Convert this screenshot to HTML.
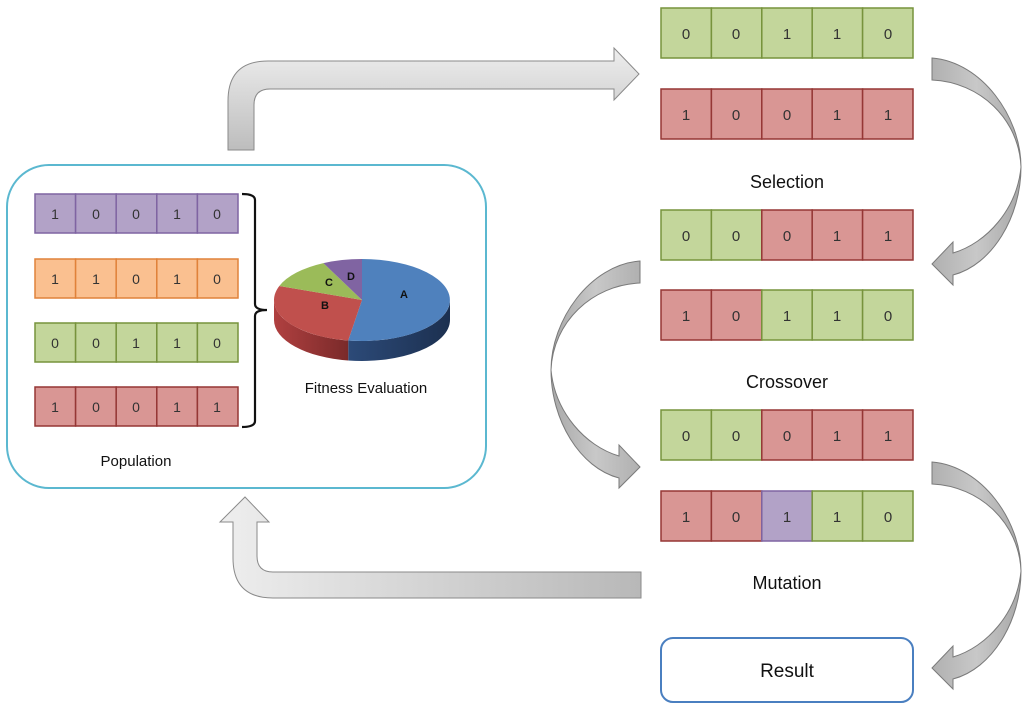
<!DOCTYPE html>
<html><head><meta charset="utf-8"><style>
html,body{margin:0;padding:0;background:#fff;}
svg{display:block;font-family:"Liberation Sans",sans-serif;}
</style></head><body>
<svg width="1024" height="707" viewBox="0 0 1024 707" xmlns="http://www.w3.org/2000/svg">
<defs>
<linearGradient id="gv" x1="0" y1="0" x2="0" y2="1"><stop offset="0" stop-color="#eeeeee"/><stop offset="1" stop-color="#bdbdbd"/></linearGradient>
<linearGradient id="gh" x1="0" y1="0" x2="1" y2="0"><stop offset="0" stop-color="#eeeeee"/><stop offset="1" stop-color="#b8b8b8"/></linearGradient>
<linearGradient id="gc" x1="0" y1="0" x2="1" y2="0"><stop offset="0" stop-color="#a8a8a8"/><stop offset="0.5" stop-color="#c8c8c8"/><stop offset="1" stop-color="#b0b0b0"/></linearGradient>
<linearGradient id="sa" x1="0" y1="0" x2="1" y2="0"><stop offset="0" stop-color="#2c4a78"/><stop offset="1" stop-color="#1c3050"/></linearGradient>
<linearGradient id="sb" x1="0" y1="0" x2="1" y2="0"><stop offset="0" stop-color="#b04040"/><stop offset="1" stop-color="#7a2a2a"/></linearGradient>
</defs>

<!-- Population box -->
<rect x="7" y="165" width="479" height="323" rx="42" fill="#fff" stroke="#5bb8d0" stroke-width="2"/>

<!-- Left rows -->
<g font-size="14" fill="#333" text-anchor="middle">
<g stroke="#7f64a2" stroke-width="1.5" fill="#b2a2c7">
<rect x="35" y="194" width="40.6" height="39"/><rect x="75.6" y="194" width="40.6" height="39"/><rect x="116.2" y="194" width="40.6" height="39"/><rect x="156.8" y="194" width="40.6" height="39"/><rect x="197.4" y="194" width="40.6" height="39"/>
</g>
<g stroke="#e0823a" stroke-width="1.5" fill="#fac090">
<rect x="35" y="259" width="40.6" height="39"/><rect x="75.6" y="259" width="40.6" height="39"/><rect x="116.2" y="259" width="40.6" height="39"/><rect x="156.8" y="259" width="40.6" height="39"/><rect x="197.4" y="259" width="40.6" height="39"/>
</g>
<g stroke="#77933c" stroke-width="1.5" fill="#c3d69b">
<rect x="35" y="323" width="40.6" height="39"/><rect x="75.6" y="323" width="40.6" height="39"/><rect x="116.2" y="323" width="40.6" height="39"/><rect x="156.8" y="323" width="40.6" height="39"/><rect x="197.4" y="323" width="40.6" height="39"/>
</g>
<g stroke="#953735" stroke-width="1.5" fill="#d99694">
<rect x="35" y="387" width="40.6" height="39"/><rect x="75.6" y="387" width="40.6" height="39"/><rect x="116.2" y="387" width="40.6" height="39"/><rect x="156.8" y="387" width="40.6" height="39"/><rect x="197.4" y="387" width="40.6" height="39"/>
</g>
<text x="55" y="219">1</text><text x="96" y="219">0</text><text x="136" y="219">0</text><text x="177" y="219">1</text><text x="217" y="219">0</text>
<text x="55" y="284">1</text><text x="96" y="284">1</text><text x="136" y="284">0</text><text x="177" y="284">1</text><text x="217" y="284">0</text>
<text x="55" y="348">0</text><text x="96" y="348">0</text><text x="136" y="348">1</text><text x="177" y="348">1</text><text x="217" y="348">0</text>
<text x="55" y="412">1</text><text x="96" y="412">0</text><text x="136" y="412">0</text><text x="177" y="412">1</text><text x="217" y="412">1</text>
</g>

<!-- Bracket -->
<path d="M242,194 Q255,194 255,200 L255,304 Q255,310 267,310 Q255,310 255,316 L255,421 Q255,427 242,427" fill="none" stroke="#111" stroke-width="2.2"/>

<!-- Pie -->
<path d="M450,300 A88,41 0 0 1 348.2,340.5 L348.2,360.5 A88,41 0 0 0 450,320 Z" fill="url(#sa)"/>
<path d="M348.2,340.5 A88,41 0 0 1 274,300 L274,320 A88,41 0 0 0 348.2,360.5 Z" fill="url(#sb)"/>
<path d="M362,300 L362,259 A88,41 0 1 1 348.2,340.5 Z" fill="#4f81bd"/>
<path d="M362,300 L348.2,340.5 A88,41 0 0 1 279.3,286 Z" fill="#c0504d"/>
<path d="M362,300 L279.3,286 A88,41 0 0 1 323.4,263.1 Z" fill="#9bbb59"/>
<path d="M362,300 L323.4,263.1 A88,41 0 0 1 362,259 Z" fill="#8064a2"/>
<g font-size="11" font-weight="bold" fill="#111" text-anchor="middle">
<text x="404" y="298">A</text><text x="325" y="309">B</text><text x="329" y="286">C</text><text x="351" y="280">D</text>
</g>
<text x="366" y="393" font-size="15" fill="#111" text-anchor="middle">Fitness Evaluation</text>
<text x="136" y="466" font-size="15" fill="#111" text-anchor="middle">Population</text>

<!-- Top arrow -->
<path d="M228,150 L228,101 Q228,61 268,61 L614,61 L614,48 L639,74 L614,100 L614,89 L270,89 Q254,89 254,105 L254,150 Z" fill="url(#gv)" stroke="#8a8a8a" stroke-width="1"/>
<!-- Bottom arrow -->
<path d="M641,572 L273,572 Q257,572 257,556 L257,522 L269,522 L245,497 L220,522 L233,522 L233,558 Q233,598 273,598 L641,598 Z" fill="url(#gh)" stroke="#8a8a8a" stroke-width="1"/>

<!-- Curved arrows -->
<g fill="url(#gc)" stroke="#7a7a7a" stroke-width="1">
<path id="c2" d="M640,261 C590,265 551,320 551,370 C551,420 580,468 619,478 L619,488 L640,467 L619,445 L619,456 C585,446 555,412 551,370 C553,322 592,285 640,283 Z"/>
<path d="M640,261 C590,265 551,320 551,370 C551,420 580,468 619,478 L619,488 L640,467 L619,445 L619,456 C585,446 555,412 551,370 C553,322 592,285 640,283 Z" transform="matrix(-1,0,0,1,1572,-203)"/>
<path d="M640,261 C590,265 551,320 551,370 C551,420 580,468 619,478 L619,488 L640,467 L619,445 L619,456 C585,446 555,412 551,370 C553,322 592,285 640,283 Z" transform="matrix(-1,0,0,1,1572,201)"/>
</g>

<!-- Right rows -->
<g stroke-width="1.5">
<!-- row1 -->
<g fill="#c3d69b" stroke="#77933c"><rect x="661" y="8" width="50.4" height="50"/><rect x="711.4" y="8" width="50.4" height="50"/><rect x="761.8" y="8" width="50.4" height="50"/><rect x="812.2" y="8" width="50.4" height="50"/><rect x="862.6" y="8" width="50.4" height="50"/></g>
<!-- row2 -->
<g fill="#d99694" stroke="#953735"><rect x="661" y="89" width="50.4" height="50"/><rect x="711.4" y="89" width="50.4" height="50"/><rect x="761.8" y="89" width="50.4" height="50"/><rect x="812.2" y="89" width="50.4" height="50"/><rect x="862.6" y="89" width="50.4" height="50"/></g>
<!-- row3 -->
<g fill="#c3d69b" stroke="#77933c"><rect x="661" y="210" width="50.4" height="50"/><rect x="711.4" y="210" width="50.4" height="50"/></g>
<g fill="#d99694" stroke="#953735"><rect x="761.8" y="210" width="50.4" height="50"/><rect x="812.2" y="210" width="50.4" height="50"/><rect x="862.6" y="210" width="50.4" height="50"/></g>
<!-- row4 -->
<g fill="#d99694" stroke="#953735"><rect x="661" y="290" width="50.4" height="50"/><rect x="711.4" y="290" width="50.4" height="50"/></g>
<g fill="#c3d69b" stroke="#77933c"><rect x="761.8" y="290" width="50.4" height="50"/><rect x="812.2" y="290" width="50.4" height="50"/><rect x="862.6" y="290" width="50.4" height="50"/></g>
<!-- row5 -->
<g fill="#c3d69b" stroke="#77933c"><rect x="661" y="410" width="50.4" height="50"/><rect x="711.4" y="410" width="50.4" height="50"/></g>
<g fill="#d99694" stroke="#953735"><rect x="761.8" y="410" width="50.4" height="50"/><rect x="812.2" y="410" width="50.4" height="50"/><rect x="862.6" y="410" width="50.4" height="50"/></g>
<!-- row6 -->
<g fill="#d99694" stroke="#953735"><rect x="661" y="491" width="50.4" height="50"/><rect x="711.4" y="491" width="50.4" height="50"/></g>
<g fill="#b2a2c7" stroke="#7f64a2"><rect x="761.8" y="491" width="50.4" height="50"/></g>
<g fill="#c3d69b" stroke="#77933c"><rect x="812.2" y="491" width="50.4" height="50"/><rect x="862.6" y="491" width="50.4" height="50"/></g>
</g>
<g font-size="15" fill="#333" text-anchor="middle">
<text x="686" y="39">0</text><text x="736" y="39">0</text><text x="787" y="39">1</text><text x="837" y="39">1</text><text x="888" y="39">0</text>
<text x="686" y="120">1</text><text x="736" y="120">0</text><text x="787" y="120">0</text><text x="837" y="120">1</text><text x="888" y="120">1</text>
<text x="686" y="241">0</text><text x="736" y="241">0</text><text x="787" y="241">0</text><text x="837" y="241">1</text><text x="888" y="241">1</text>
<text x="686" y="321">1</text><text x="736" y="321">0</text><text x="787" y="321">1</text><text x="837" y="321">1</text><text x="888" y="321">0</text>
<text x="686" y="441">0</text><text x="736" y="441">0</text><text x="787" y="441">0</text><text x="837" y="441">1</text><text x="888" y="441">1</text>
<text x="686" y="522">1</text><text x="736" y="522">0</text><text x="787" y="522">1</text><text x="837" y="522">1</text><text x="888" y="522">0</text>
</g>
<g font-size="18" fill="#111" text-anchor="middle">
<text x="787" y="188">Selection</text>
<text x="787" y="388">Crossover</text>
<text x="787" y="589">Mutation</text>
</g>

<!-- Result -->
<rect x="661" y="638" width="252" height="64" rx="12" fill="#fff" stroke="#4a7fc0" stroke-width="2"/>
<text x="787" y="677" font-size="19" fill="#111" text-anchor="middle">Result</text>
</svg>
</body></html>
